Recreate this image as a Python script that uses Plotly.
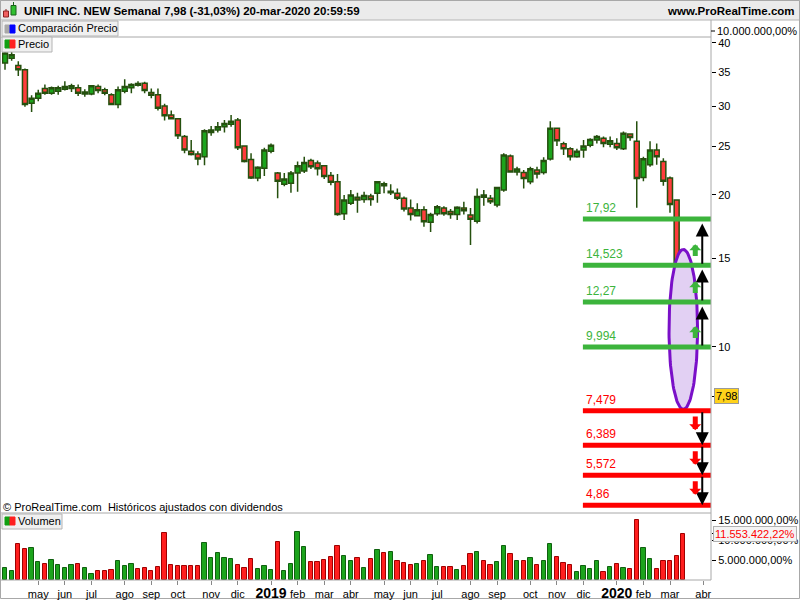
import math
import numpy as np
import pandas as pd
import plotly.graph_objects as go

# ---------------- data ----------------
dates = pd.date_range("2018-04-02", periods=103, freq="7D")
opens = [36.5, 37.3, 36.1, 35.4, 30.4, 31.1, 32.5, 31.8, 32.1, 32.4,
         32.5, 32.6, 31.7, 31.7, 32.8, 32.3, 31.6, 30.2, 32.1, 32.6,
         33.25, 33.3, 31.9, 31.6, 30.0, 28.8, 28.3, 26.1, 24.4, 24.1,
         23.8, 26.6, 26.9, 27.3, 27.6, 28.15, 25.0, 23.5, 21.6, 22.6,
         24.4, 22.1, 21.0, 21.1, 22.1, 22.3, 23.4, 23.15, 22.85, 21.85,
         21.25, 18.35, 19.26, 19.8, 19.6, 19.9, 20.16, 21.05, 20.2, 20.15,
         19.7, 18.85, 18.2, 18.7, 17.65, 18.35, 18.85, 18.55, 18.3, 18.85,
         18.25, 17.75, 20.0, 19.7, 19.1, 20.46, 23.9, 22.2, 22.15, 21.25,
         22.4, 22.15, 23.56, 27.1, 25.25, 24.7, 23.8, 24.55, 25.1, 25.7,
         25.9, 25.2, 25.3, 24.7, 26.4, 25.55, 21.65, 22.95, 24.55, 23.3,
         21.6, 19.55, 14.7]
highs = [39.1, 38.8, 36.8, 35.6, 31.5, 32.3, 33.1, 32.8, 32.9, 33.6,
         33.2, 33.1, 32.4, 33.0, 33.1, 32.6, 31.8, 32.8, 33.9, 33.3,
         33.6, 33.5, 32.5, 32.5, 30.3, 29.4, 28.4, 26.3, 25.7, 24.4,
         27.0, 27.4, 27.9, 28.15, 28.8, 28.4, 25.1, 24.2, 22.8, 24.8,
         25.3, 22.2, 22.1, 22.3, 23.3, 23.8, 23.6, 23.4, 22.9, 22.2,
         22.0, 20.0, 20.45, 20.2, 20.3, 20.1, 21.3, 21.25, 21.0, 20.6,
         19.85, 19.6, 19.25, 19.0, 18.45, 19.1, 19.0, 18.75, 19.0, 19.4,
         18.85, 20.6, 20.45, 20.0, 20.75, 24.2, 24.05, 22.75, 22.4, 22.75,
         22.75, 23.75, 28.0, 27.2, 25.5, 24.85, 24.7, 25.7, 25.9, 26.3,
         26.1, 26.1, 25.9, 26.7, 26.5, 28.0, 23.8, 25.55, 25.3, 23.65,
         21.75, 19.6, 15.0]
lows = [35.4, 36.9, 34.4, 29.9, 29.2, 30.65, 31.6, 31.6, 31.6, 32.2,
        32.0, 31.4, 31.3, 31.5, 31.8, 31.5, 30.1, 29.7, 31.8, 31.8,
        32.8, 31.8, 31.1, 29.4, 28.1, 28.2, 25.8, 24.2, 23.95, 22.9,
        22.9, 26.2, 26.6, 26.6, 27.3, 24.55, 23.2, 21.5, 21.3, 21.8,
        24.2, 19.7, 20.8, 20.2, 20.3, 22.1, 22.5, 21.85, 21.5, 20.9,
        18.2, 17.85, 19.1, 18.45, 19.3, 19.05, 19.3, 20.15, 20.0, 19.55,
        18.55, 17.8, 18.15, 17.3, 16.9, 18.2, 18.2, 17.95, 17.85, 18.3,
        15.92, 17.55, 19.05, 19.2, 18.9, 20.3, 22.15, 21.85, 20.6, 21.0,
        21.55, 21.95, 23.4, 25.0, 24.0, 23.4, 23.7, 23.7, 24.85, 25.3,
        24.85, 24.85, 24.55, 24.55, 25.6, 18.87, 21.3, 22.75, 22.95, 20.85,
        18.45, 13.89, 7.56]
closes = [38.2, 37.9, 35.4, 30.2, 31.1, 31.8, 31.8, 32.6, 32.6, 32.8,
          32.9, 31.8, 32.0, 32.9, 32.2, 31.8, 30.2, 32.3, 32.8, 33.1,
          33.0, 32.2, 31.5, 29.7, 28.7, 28.3, 26.2, 24.55, 24.05, 23.55,
          26.8, 26.9, 27.3, 27.7, 28.0, 24.8, 23.3, 21.6, 22.7, 24.55,
          25.1, 21.3, 21.5, 22.1, 22.85, 23.2, 22.75, 22.55, 21.75, 21.2,
          18.3, 19.55, 20.0, 19.55, 19.95, 19.6, 21.25, 20.85, 20.35, 19.7,
          18.75, 18.3, 18.7, 17.7, 18.3, 18.95, 18.35, 18.3, 18.9, 18.6,
          17.9, 19.85, 19.8, 19.4, 20.7, 24.0, 22.2, 22.5, 21.55, 22.55,
          22.0, 23.4, 27.1, 25.6, 24.7, 23.8, 24.4, 25.0, 25.75, 26.1,
          25.3, 25.6, 24.8, 26.5, 26.0, 21.55, 23.6, 24.55, 23.8, 21.3,
          19.15, 14.65, 7.98]
volumes_m = [2.92, 2.25, 9.0, 7.75, 8.0, 4.5, 4.0, 5.0, 3.75, 3.0,
             3.75, 4.0, 3.0, 1.5, 2.25, 2.25, 2.5, 4.75, 3.5, 4.0,
             2.75, 3.0, 2.25, 3.25, 11.75, 3.75, 3.5, 3.5, 3.5, 3.5,
             9.25, 5.5, 6.75, 5.5, 5.25, 3.75, 3.0, 5.25, 2.75, 3.5,
             2.5, 9.5, 2.25, 4.0, 12.0, 8.25, 4.5, 4.5, 5.0, 5.75,
             8.5, 6.0, 4.75, 5.5, 3.0, 5.25, 7.5, 6.75, 7.0, 4.75,
             4.25, 3.75, 4.0, 4.75, 6.25, 3.25, 3.25, 3.25, 2.5, 3.5,
             6.5, 7.0, 4.75, 3.75, 4.5, 8.5, 6.5, 4.75, 4.75, 5.5,
             3.75, 4.75, 9.0, 5.75, 4.25, 3.75, 2.0, 3.5, 2.75, 4.75,
             2.0, 3.25, 4.0, 3.0, 2.75, 15.0, 8.0, 5.25, 2.75, 4.75,
             4.75, 6.0, 11.553422]

levels_up = [17.92, 14.523, 12.27, 9.994]
levels_up_labels = ["17,92", "14,523", "12,27", "9,994"]
levels_dn = [7.479, 6.389, 5.572, 4.86]
levels_dn_labels = ["7,479", "6,389", "5,572", "4,86"]

price_ticks = [10, 15, 20, 25, 30, 35, 40]
vol_ticks = [5e6, 10e6, 15e6]
vol_tick_labels = ["5.000.000,00%", "10.000.000,00%", "15.000.000,00%"]
month_names = ["ene", "feb", "mar", "abr", "may", "jun", "jul", "ago",
               "sep", "oct", "nov", "dic"]

title_text = "UNIFI INC. NEW Semanal 7,98 (-31,03%) 20-mar-2020 20:59:59"
last_price_label = "7,98"
last_vol_label = "11.553.422,22%"

# ---------------- geometry ----------------
W, H = 800, 600
ML, MR, MT, MB = 2, 89, 20, 20
PW = W - ML - MR
PH = H - MT - MB


def px(x):
    return (x - ML) / PW


def py(y):
    return (H - MB - y) / PH


PRICE_TOP, PRICE_BOT = 37, 513
price_range = [math.log10(4.69), math.log10(41.1)]
ppd = (PRICE_BOT - PRICE_TOP) / (price_range[1] - price_range[0])  # px per decade
week_px = 6.65
x_start = dates[0] - pd.Timedelta(days=7 * (5 - ML) / week_px)
x_end = x_start + pd.Timedelta(days=7 * PW / week_px)

FONT = "Liberation Sans, Arial, sans-serif"
OUTLINE = "#25500e"
GREEN = "#1ca41c"
RED = "#ff3c3c"
LVL_GREEN = "#3cb43c"
LVL_RED = "#ff0000"

up = [c >= o for o, c in zip(opens, closes)]

fig = go.Figure()

# ellipse around the last candle (drawn first so the candle stays on top)
t = np.linspace(0, 2 * np.pi, 121)
ell_half_w = pd.Timedelta(weeks=2.15)
ell_lo, ell_hi = math.log10(lows[-1] * 0.995), math.log10(highs[-1] * 1.04)
ell_c, ell_r = (ell_lo + ell_hi) / 2, (ell_hi - ell_lo) / 2
ell_x = [dates[-1] + ell_half_w * float(np.cos(a)) for a in t]
ell_y = [10 ** (ell_c + ell_r * float(np.sin(a))) for a in t]
fig.add_trace(go.Scatter(x=ell_x, y=ell_y, mode="lines", fill="toself",
                         fillcolor="rgba(226,208,243,1)", line=dict(color="#7a10c8", width=3),
                         xaxis="x", yaxis="y", showlegend=False, hoverinfo="skip"))

fig.add_trace(go.Candlestick(
    x=dates, open=opens, high=highs, low=lows, close=closes,
    increasing=dict(fillcolor=GREEN, line=dict(color=OUTLINE, width=1.5)),
    decreasing=dict(fillcolor=RED, line=dict(color=OUTLINE, width=1.5)),
    whiskerwidth=0, xaxis="x", yaxis="y", showlegend=False, hoverinfo="skip"))

fig.add_trace(go.Bar(
    x=dates, y=[v * 1e6 for v in volumes_m],
    width=4.3 / week_px * 7 * 86400000,
    marker=dict(color=[GREEN if u else "#ff1e1e" for u in up],
                line=dict(color=["#0f600f" if u else "#a00000" for u in up], width=1)),
    xaxis="x2", yaxis="y2", showlegend=False, hoverinfo="skip"))

# level lines
level_x0 = dates[0] + pd.Timedelta(weeks=86.9)
for lv, col in [(l, LVL_GREEN) for l in levels_up] + [(l, LVL_RED) for l in levels_dn]:
    fig.add_trace(go.Scatter(x=[level_x0, x_end], y=[lv, lv], mode="lines",
                             line=dict(color=col, width=5), xaxis="x", yaxis="y",
                             showlegend=False, hoverinfo="skip"))

annotations = []
for lv, lab in zip(levels_up, levels_up_labels):
    annotations.append(dict(x=level_x0, y=math.log10(lv), xref="x", yref="y", text=lab,
                            showarrow=False, xanchor="left", yanchor="bottom", xshift=1, yshift=2,
                            font=dict(family=FONT, size=12, color=LVL_GREEN)))
for lv, lab in zip(levels_dn, levels_dn_labels):
    annotations.append(dict(x=level_x0, y=math.log10(lv), xref="x", yref="y", text=lab,
                            showarrow=False, xanchor="left", yanchor="bottom", xshift=1, yshift=2,
                            font=dict(family=FONT, size=12, color=LVL_RED)))

# arrows
black_x = dates[0] + pd.Timedelta(weeks=104.85)
small_x = dates[0] + pd.Timedelta(weeks=103.8)
for k in range(3):
    lower, upper = levels_up[k + 1], levels_up[k]
    tip = upper * 0.98
    annotations.append(dict(x=black_x, y=math.log10(tip), xref="x", yref="y", text="",
                            showarrow=True, ax=0, ay=ppd * math.log10(tip / lower),
                            arrowhead=2, arrowsize=1.3, arrowwidth=2, arrowcolor="black"))
    annotations.append(dict(x=small_x, y=math.log10(lower * 1.1), xref="x", yref="y", text="",
                            showarrow=True, ax=0, ay=ppd * math.log10(1.1 / 1.035),
                            arrowhead=1, arrowsize=0.4, arrowwidth=5, arrowcolor=LVL_GREEN))
for k in range(3):
    upper, lower = levels_dn[k], levels_dn[k + 1]
    annotations.append(dict(x=black_x, y=math.log10(lower), xref="x", yref="y", text="",
                            showarrow=True, ax=0, ay=-ppd * math.log10(upper / lower),
                            arrowhead=2, arrowsize=1.3, arrowwidth=2, arrowcolor="black"))
    annotations.append(dict(x=small_x, y=math.log10(upper * 0.915), xref="x", yref="y", text="",
                            showarrow=True, ax=0, ay=-ppd * math.log10(0.98 / 0.915),
                            arrowhead=1, arrowsize=0.4, arrowwidth=5, arrowcolor=LVL_RED))

shapes = []


def rect(x0, y0, x1, y1, fill=None, line="#b0b0b0", lw=1, layer="above"):
    shapes.append(dict(type="rect", xref="paper", yref="paper", x0=px(x0), x1=px(x1),
                       y0=py(y1), y1=py(y0), fillcolor=fill if fill else "rgba(0,0,0,0)",
                       line=dict(color=line, width=lw), layer=layer))


def hline(x0, x1, y, color="#a8a8a8", w=1):
    shapes.append(dict(type="line", xref="paper", yref="paper", x0=px(x0), x1=px(x1),
                       y0=py(y), y1=py(y), line=dict(color=color, width=w)))


def vline(x, y0, y1, color="#a8a8a8", w=1):
    shapes.append(dict(type="line", xref="paper", yref="paper", x0=px(x), x1=px(x),
                       y0=py(y0), y1=py(y1), line=dict(color=color, width=w)))


def text(x, y, s, size=11, color="black", anchor="left", bold=False):
    annotations.append(dict(x=px(x), y=py(y), xref="paper", yref="paper",
                            text=("<b>%s</b>" % s) if bold else s, showarrow=False,
                            xanchor=anchor, yanchor="middle",
                            font=dict(family=FONT, size=size, color=color)))


# title bar
rect(0, 0, 800, 20, fill="#ebebeb", line="#b4b4b4", layer="below")
rect(3.5, 11, 8.5, 17, fill="#f06060", line="#8a2020")
vline(6, 9, 11, color="#8a2020")
rect(11, 5.5, 16, 15, fill="#30c030", line="#1a601a")
vline(13.5, 2, 5.5, color="#1a601a")
text(22, 11, title_text, size=11.5, bold=True)
text(797, 11, "www.ProRealTime.com", size=11.5, bold=True, anchor="right")

# panel borders
rect(0.5, 0.5, 799.5, 598.5, line="#a8a8a8", layer="below")
hline(0, 711, 37)
hline(0, 711, 513)
hline(0, 711, 580)
vline(711, 20, 580)

# legend boxes
rect(2, 21, 118, 36, fill="#f0f0f0", line="#b4b4b4")
rect(5, 25, 10, 33, fill="#a8a8a8", line="#a8a8a8")
rect(10, 25, 15, 33, fill="#0000ff", line="#0000ff")
text(16, 28.5, "Comparación Precio", size=11)

rect(2, 37, 52, 52, fill="#f0f0f0", line="#b4b4b4")
rect(5, 40, 10, 48, fill="#10a010", line="#10a010")
rect(10, 40, 15, 48, fill="#ff2020", line="#ff2020")
text(16, 44, "Precio", size=11)

rect(2, 514, 62, 529, fill="#f0f0f0", line="#b4b4b4")
rect(5, 517, 10, 525, fill="#10a010", line="#10a010")
rect(10, 517, 15, 525, fill="#ff2020", line="#ff2020")
text(16, 521, "Volumen", size=11)

text(1, 507, "© ProRealTime.com  Históricos ajustados con dividendos", size=11)

# comparison panel axis label
hline(711, 715, 31, color="black")
text(715, 31, "10.000.000,00%", size=11)

# last price / last volume labels
annotations.append(dict(x=px(714), y=math.log10(closes[-1]), xref="paper", yref="y",
                        text=last_price_label, showarrow=False, xanchor="left", yanchor="middle",
                        font=dict(family=FONT, size=11, color="black"),
                        bgcolor="#ffd21a", bordercolor="#9a9a9a", borderwidth=1, borderpad=1))
annotations.append(dict(x=px(713), y=volumes_m[-1] * 1e6, xref="paper", yref="y2",
                        text=last_vol_label, showarrow=False, xanchor="left", yanchor="middle",
                        font=dict(family=FONT, size=11, color="#ff0000"),
                        bgcolor="#f4f4f4", bordercolor="#b0b0b0", borderwidth=1, borderpad=1))

# month ticks
ext = pd.date_range(dates[0], periods=len(dates) + 4, freq="7D")
tick_vals, tick_text = [], []
seen = set()
for d in ext:
    key = (d.year, d.month)
    if key in seen:
        continue
    seen.add(key)
    if d == ext[0]:
        continue
    tick_vals.append(d)
    if d.month == 1:
        tick_text.append("<b><span style='font-size:14px'>%d</span></b>" % d.year)
    else:
        tick_text.append(month_names[d.month - 1])

price_dom = [py(PRICE_BOT), py(PRICE_TOP)]
vol_dom = [0, py(PRICE_BOT)]
vol_top = 15e6 * (580 - 513) / (580 - 520)

fig.update_layout(
    width=W, height=H,
    margin=dict(l=ML, r=MR, t=MT, b=MB, autoexpand=False),
    paper_bgcolor="white", plot_bgcolor="white",
    boxgap=0.25,
    boxgroupgap=0,
    bargap=0,
    showlegend=False,
    font=dict(family=FONT, size=11, color="black"),
    xaxis=dict(type="date", range=[x_start, x_end], domain=[0, 1], anchor="y",
               showticklabels=False, showgrid=False, zeroline=False, ticks="",
               rangeslider=dict(visible=False), showline=False, automargin=False),
    yaxis=dict(type="log", range=price_range, domain=price_dom, side="right",
               tickvals=price_ticks + [closes[-1]],
               ticktext=[str(v) for v in price_ticks] + [""],
               ticks="outside", ticklen=4, tickcolor="black", showgrid=False,
               zeroline=False, showline=False, anchor="x", automargin=False,
               tickfont=dict(family=FONT, size=11)),
    xaxis2=dict(type="date", range=[x_start, x_end], domain=[0, 1], anchor="y2",
                matches="x", tickvals=tick_vals, ticktext=tick_text, tickangle=0,
                ticks="outside", ticklen=4, tickcolor="#888888", showgrid=False,
                zeroline=False, showline=False, automargin=False,
                tickfont=dict(family=FONT, size=11)),
    yaxis2=dict(range=[0, vol_top], domain=vol_dom, side="right", anchor="x2",
                tickvals=vol_ticks + [volumes_m[-1] * 1e6], ticktext=vol_tick_labels + [""],
                ticks="outside", ticklen=4, tickcolor="black", showgrid=False,
                zeroline=False, showline=False, automargin=False,
                tickfont=dict(family=FONT, size=11)),
    shapes=shapes,
    annotations=annotations,
)

fig.write_html("out.html", config={"displayModeBar": False},
               post_script="document.body.style.margin='0';document.body.style.overflow='hidden';")
